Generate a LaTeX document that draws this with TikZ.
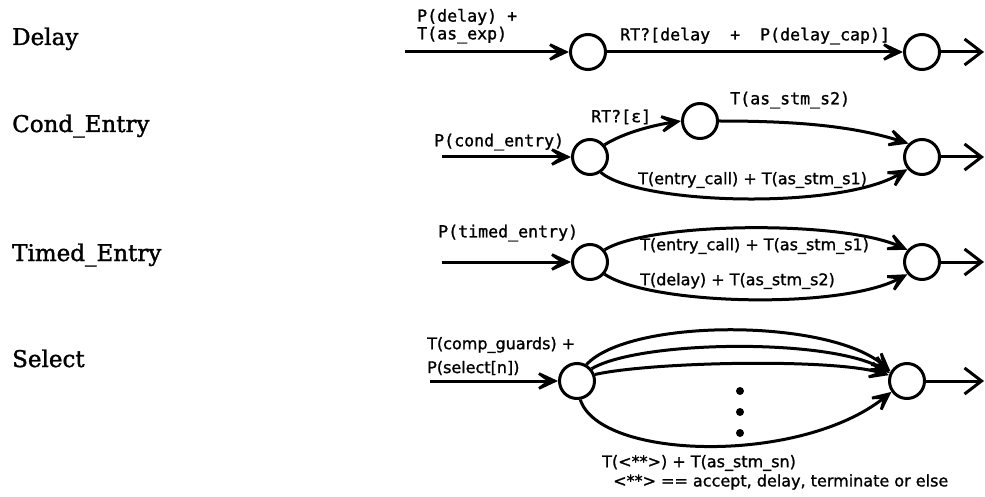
\documentclass[tikz,border=0pt]{standalone}
\usepackage{fontspec}
\setmainfont{DejaVu Serif}
\newfontfamily\lblf[FakeBold=1.5]{DejaVu Serif}
\newfontfamily\monof[FakeBold=1.2]{DejaVu Sans Mono}
\newfontfamily\sansf[FakeBold=1.2]{DejaVu Sans}
\usetikzlibrary{arrows.meta}
\tikzset{
  st/.style={circle, draw, line width=3pt, minimum size=35pt, inner sep=0pt},
  conn/.style={line width=3pt},
  inarr/.style={conn, -{Stealth[length=32pt,width=30pt,inset=21pt]}},
  outarr/.style={conn, -{Straight Barb[length=17pt,width=26pt]}},
  mono/.style={font=\monof\fontsize{16.6}{18}\selectfont, inner sep=0pt, anchor=west},
  sans/.style={font=\sansf\fontsize{16}{18}\selectfont, inner sep=0pt, anchor=west},
  lbl/.style={font=\lblf\fontsize{23}{26}\selectfont, inner sep=0pt, anchor=base west},
  dot/.style={circle, fill, inner sep=0pt, minimum size=8pt},
}
\begin{document}
\begin{tikzpicture}[x=1pt,y=-1pt]
\path[use as bounding box] (0,0) rectangle (985,497);

% left labels
\node[lbl] (ldelay) at (12,45) {Delay};
\node[lbl] (lcond) at (12,132) {Cond\_Entry};
\node[lbl] (ltimed) at (12,261) {Timed\_Entry};
\node[lbl] (lsel) at (12,367) {Select};

% Delay
\node[st] (d1) at (588,52) {};
\node[st] (d2) at (922,52) {};
\coordinate (d0) at (405,52);
\coordinate (d3) at (984,52);
\draw[inarr] (d0) -- (d1);
\draw[inarr] (d1) -- (d2);
\draw[outarr] (d2) -- (d3);
\node[mono] (tda) at (417,17) {P(delay) +};
\node[mono] (tdb) at (417,35) {T(as\_exp)};
\node[mono] (tdc) at (620,36) {RT?[delay~~+~~P(delay\_cap)]};

% Cond_Entry
\node[st] (c1) at (590,157) {};
\node[st] (c2) at (700,121) {};
\node[st] (c3) at (922,157) {};
\coordinate (c0) at (442,157);
\coordinate (c4) at (984,157);
\draw[inarr] (c0) -- (c1);
\draw[inarr] (c1.40) .. controls (625,132) and (655,125) .. (c2.west);
\draw[inarr] (c2.east) .. controls (790,121) and (850,125) .. (c3.135);
\draw[inarr] (c1.-55) .. controls (640,205) and (840,210) .. (c3.-140);
\draw[outarr] (c3) -- (c4);
\node[mono] (tca) at (434,142) {P(cond\_entry)};
\node[mono] (tcb) at (591,117) {RT?[ε]};
\node[mono] (tcc) at (730,100) {T(as\_stm\_s2)};
\node[sans] (tcd) at (638,180) {T(entry\_call) + T(as\_stm\_s1)};

% Timed_Entry
\node[st] (t1) at (590,262) {};
\node[st] (t2) at (922,262) {};
\coordinate (t0) at (442,262);
\coordinate (t3) at (984,262);
\draw[inarr] (t0) -- (t1);
\draw[inarr] (t1.40) .. controls (650,222) and (840,220) .. (t2.140);
\draw[inarr] (t1.-40) .. controls (650,305) and (840,310) .. (t2.-140);
\draw[outarr] (t2) -- (t3);
\node[mono] (tta) at (438,233) {P(timed\_entry)};
\node[sans] (ttb) at (640,246) {T(entry\_call) + T(as\_stm\_s1)};
\node[sans] (ttc) at (640,281) {T(delay) + T(as\_stm\_s2)};

% Select
\node[st] (s1) at (577,381) {};
\node[st] (s2) at (907,381) {};
\coordinate (s0) at (430,381);
\coordinate (s3) at (984,381);
\draw[inarr] (s0) -- (s1);
\draw[inarr] (s1.60) .. controls (630,318) and (830,318) .. (s2.150);
\draw[inarr] (s1.40) .. controls (640,340) and (830,338) .. (s2.155);
\draw[inarr] (s1.20) .. controls (650,362) and (830,358) .. (s2.162);
\draw[inarr] (s1.-80) .. controls (600,460) and (800,465) .. (s2.-145);
\draw[outarr] (s2) -- (s3);
\node[dot] (p1) at (740,391) {};
\node[dot] (p2) at (740,412) {};
\node[dot] (p3) at (740,433) {};
\node[sans] (tsa) at (427,345) {T(comp\_guards) +};
\node[sans] (tsb) at (427,368) {P(select[n])};
\node[sans] (tsc) at (602,463) {T(<**>) + T(as\_stm\_sn)};
\node[sans] (tsd) at (613,482) {<**> == accept, delay, terminate or else};
\end{tikzpicture}
\end{document}
